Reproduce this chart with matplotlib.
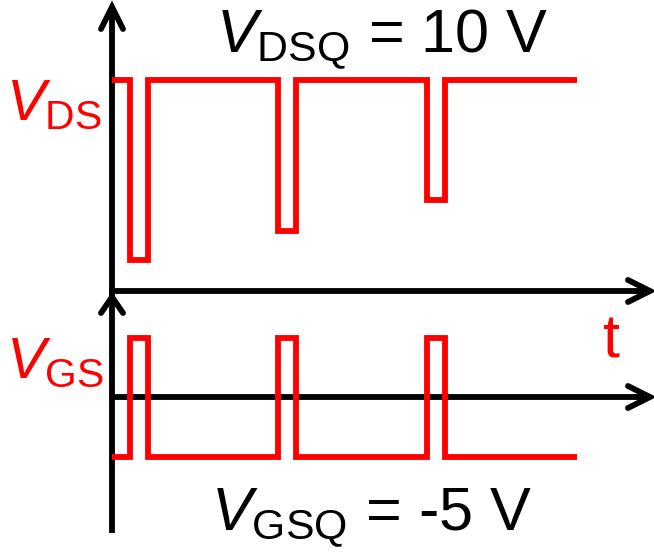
import numpy as np
import matplotlib
matplotlib.use('Agg')
import matplotlib.pyplot as plt

plt.rcParams['font.family'] = ['Liberation Sans', 'DejaVu Sans']
plt.rcParams['mathtext.fontset'] = 'custom'
plt.rcParams['mathtext.rm'] = 'Liberation Sans'
plt.rcParams['mathtext.it'] = 'Liberation Sans:italic'

# time axis (schematic units)
t_start = 112
t_end = 577
pulse_starts = [130, 278, 427]
pulse_width = 18

# V_DS: quiescent level and the dip depths
vds_high = 80
vds_dips = [260, 231, 200]

# V_GS: quiescent level and pulse top
vgs_low = 457
vgs_high = 338

# axes
axis_x = 112
axis_top = 5
axis_bottom = 533
t_axis_y = 291
vgs_axis_y = 397
arrow_end = 650

red = '#ff0000'
lw = 4.2


def square_wave(base, levels):
    xs = [t_start]
    ys = [base]
    for s, lev in zip(pulse_starts, levels):
        xs += [s, s, s + pulse_width, s + pulse_width]
        ys += [base, lev, lev, base]
    xs.append(t_end)
    ys.append(base)
    return np.array(xs), np.array(ys)


def chevron(ax, tip, direction, length=22, half=11):
    x, y = tip
    if direction == 'up':
        pts = [(x - half, y + length), (x, y), (x + half, y + length)]
    else:
        pts = [(x - length, y - half), (x, y), (x - length, y + half)]
    px, py = zip(*pts)
    ax.plot(px, py, color='black', lw=lw, solid_capstyle='round',
            solid_joinstyle='miter')


fig = plt.figure(figsize=(6.54, 5.54), dpi=100)
ax = fig.add_axes([0, 0, 1, 1])
ax.set_xlim(0, 654)
ax.set_ylim(554, 0)
ax.axis('off')

# axis lines
ax.plot([axis_x, axis_x], [axis_top + 2, axis_bottom], color='black', lw=lw,
        solid_capstyle='butt')
ax.plot([axis_x, arrow_end - 2], [t_axis_y, t_axis_y], color='black', lw=lw)
ax.plot([axis_x, arrow_end - 2], [vgs_axis_y, vgs_axis_y], color='black', lw=lw)
chevron(ax, (axis_x, axis_top + 2), 'up')
chevron(ax, (axis_x, 297), 'up', length=16)
chevron(ax, (arrow_end, t_axis_y), 'right')
chevron(ax, (arrow_end, vgs_axis_y), 'right')

# waveforms
x, y = square_wave(vds_high, vds_dips)
ax.plot(x, y, color=red, lw=lw, solid_joinstyle='miter', solid_capstyle='butt')
x, y = square_wave(vgs_low, [vgs_high] * len(pulse_starts))
ax.plot(x, y, color=red, lw=lw, solid_joinstyle='miter', solid_capstyle='butt')

fs = 44
ax.text(382, 52, r'$V_{\mathrm{DSQ}}$ = 10 V', fontsize=fs, ha='center',
        va='baseline', color='black')
ax.text(371, 530, r'$V_{\mathrm{GSQ}}$ = -5 V', fontsize=fs, ha='center',
        va='baseline', color='black')
ax.text(6, 120, r'$V_{\mathrm{DS}}$', fontsize=42, ha='left', va='baseline',
        color=red)
ax.text(6, 378, r'$V_{\mathrm{GS}}$', fontsize=42, ha='left', va='baseline',
        color=red)
ax.text(611, 357, 't', fontsize=fs, ha='center', va='baseline', color=red)

fig.savefig('out.png', dpi=100)
